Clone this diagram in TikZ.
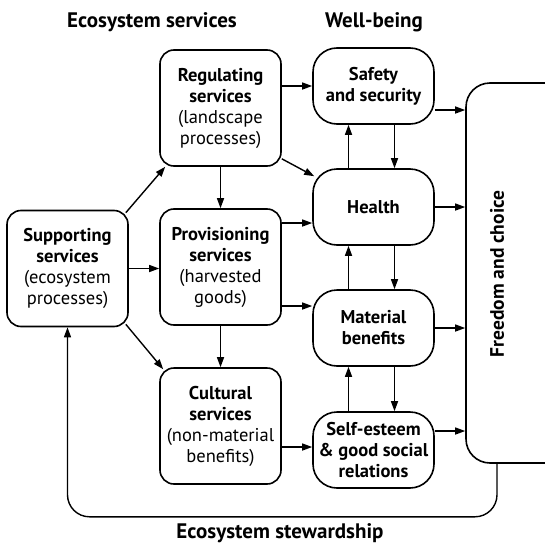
\documentclass[tikz,border=0pt]{standalone}
\usepackage{fontspec}
\setmainfont{PT Sans}
\usepackage{tikz}
\usetikzlibrary{positioning}
\usetikzlibrary{arrows.meta}
\usetikzlibrary{calc}
\tikzstyle{servicebox}=[draw,line width=1.6pt,rounded corners=14pt,minimum width=121pt,minimum height=116pt,align=center,inner sep=2pt,font=\fontsize{18.5}{21}\selectfont]
\tikzstyle{wellbox}=[draw,line width=1.6pt,rounded corners=24pt,minimum width=121pt,minimum height=76pt,align=center,inner sep=2pt,font=\bfseries\fontsize{18.5}{21}\selectfont]
\tikzstyle{heading}=[font=\bfseries\fontsize{21}{24}\selectfont]
\tikzstyle{link}=[draw,line width=1.4pt,-{Triangle[length=10pt,width=7pt]}]

\begin{document}
\begin{tikzpicture}[x=1pt, y=-1pt]

  \clip (0,0) rectangle (545,546);

  \def\wx{373.5};

  \node[heading] (eshead) at (152,22) {Ecosystem services};
  \node[heading] (wbhead) at (374,22) {Well-being};
  \node[heading] (stewardship) at (280,533) {Ecosystem stewardship};

   \foreach \x/\y/\name/\ttl/\sbt in {67.5/268.5/supporting/Supporting/{(ecosystem\\processes)},
                                      220.5/108/regulating/Regulating/{(landscape\\processes)},
                                      220.5/267/provisioning/Provisioning/{(harvested\\goods)},
                                      220.5/426/cultural/Cultural/{(non-material\\benefits)}}
   {
          \node[servicebox] (\name) at (\x, \y) {\textbf{\ttl}\\\textbf{services}\\\sbt};
   }

   \foreach \y/\name/\txt in {86/safety/{Safety\\and security}, 207/health/Health,
                              328/material/{Material\\benefits}, 450/selfesteem/{Self-esteem\\\& good social\\relations}}
   {
          \node[wellbox] (\name) at (\wx, \y) {\txt};
   }

   \node[draw,line width=1.6pt,rounded corners=24pt,minimum width=190pt,minimum height=380pt] (freedom) at (561,273) {};
   \node[heading, font=\bfseries\fontsize{19.5}{24}\selectfont, rotate=90] (freedomtext) at (497,274) {Freedom and choice};

%  supporting to the other services
   \draw[link] ($(supporting.north east)+(-3,3)$) -- ($(regulating.south west)+(6,0)$);
   \draw[link] (supporting.east) -- (provisioning.west |- supporting.east);
   \draw[link] ($(supporting.south east)+(-3,-3)$) -- ($(cultural.north west)+(4,2)$);
   \draw[link] (regulating) -- (provisioning);
   \draw[link] (provisioning) -- (cultural);

%  services to well-being
   \draw[link] (regulating.east |- safety.east) -- (safety.west);
   \draw[link] ($(regulating.south east)+(0,-8)$) -- ($(health.north west)+(2,8)$);
   \draw[link] ($(provisioning.east)+(0,-44)$) -- ($(health.west)+(0,16)$);
   \draw[link] ($(provisioning.east)+(0,39)$) -- ($(material.west)+(0,-22)$);
   \draw[link] ($(cultural.east)+(0,21)$) -- ($(selfesteem.west)+(0,-3)$);

   \foreach \upbox/\downbox in {safety/health, health/material, material/selfesteem} {
          \draw[link] ($(\downbox.north)+(-25,0)$) -- ($(\upbox.south)+(-25,0)$);
          \draw[link] ($(\upbox.south)+(21,0)$) -- ($(\downbox.north)+(21,0)$);
   }

   \foreach \name/\dy in {safety/24, health/0, material/0, selfesteem/-19} {
          \path ($(\name.east)+(0,\dy)$) coordinate (p);
          \draw[link] (p) -- (p -| freedom.west);
   }

   \draw[link, rounded corners=22pt] (freedomtext |- freedom.south) -- ++(0,53) -| (supporting.south);

\end{tikzpicture}
\end{document}
